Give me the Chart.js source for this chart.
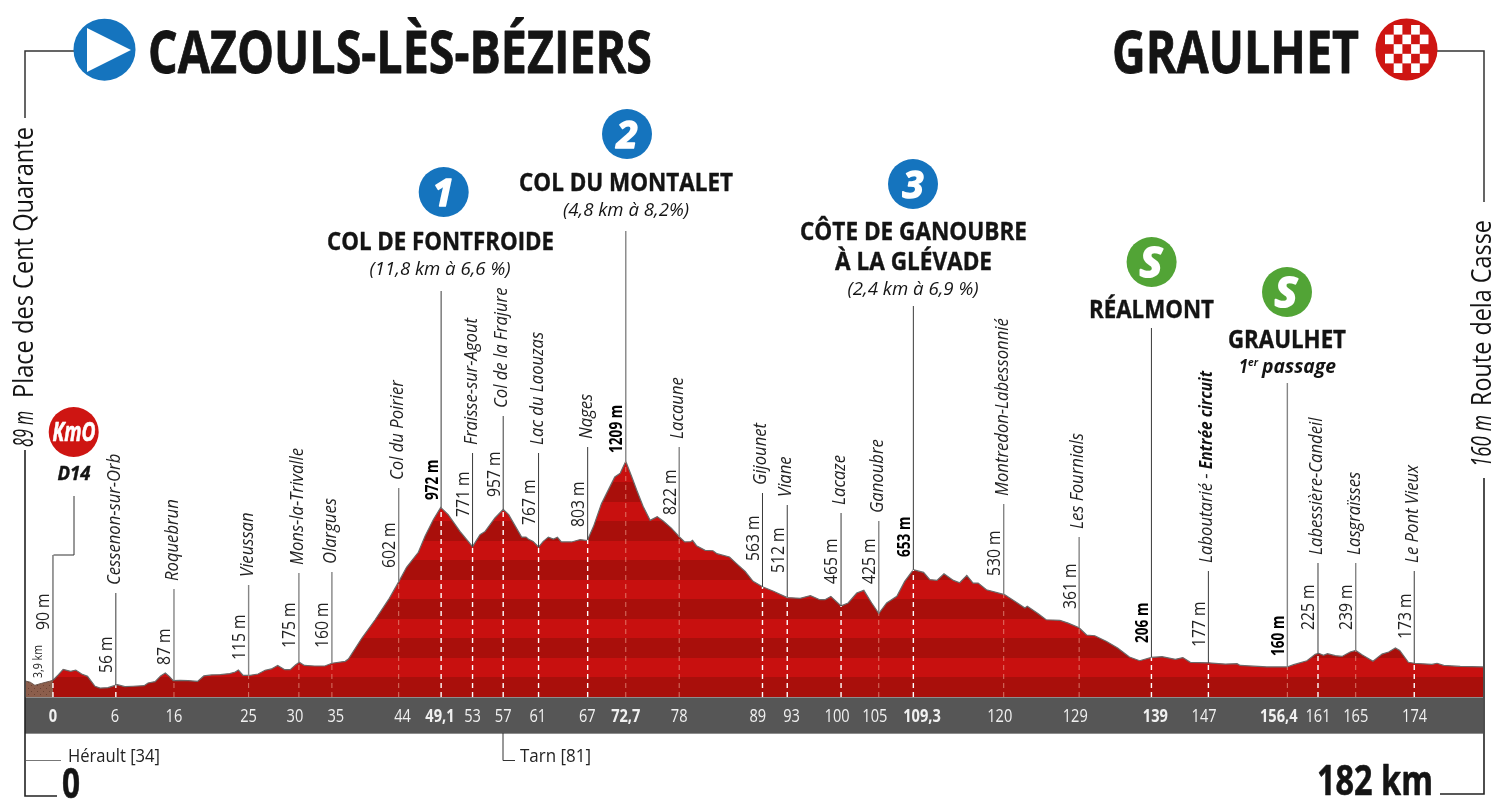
<!DOCTYPE html>
<html>
<head>
<meta charset="utf-8">
<title>Cazouls-lès-Béziers - Graulhet</title>
<script src="https://cdn.jsdelivr.net/npm/chart.js@4/dist/chart.umd.min.js"></script>
<style>
  html, body { margin: 0; padding: 0; background: #fff; }
  canvas { display: block; }
</style>
</head>
<body>
<canvas id="profile" width="1507" height="805"></canvas>
<script>
// Neutral section before km 0
const neutralKm = [-3.5, -2.9, -2.3, -1.45, -0.4, 0];
const neutralAlt = [82, 76, 60, 70, 81, 86];

// Race profile: distance (km) and altitude (m)
const profileKm = [0, 0.7, 1.3, 2.25, 2.9, 3.65, 4.4, 5.35, 6, 7, 8.2, 9.15, 10.2, 11.6, 12.1, 13, 13.7, 14.3, 14.8, 15.3,
  16.2, 17.2, 18.4, 19.2, 20.2, 21.3, 22.5, 23.2, 23.6, 24.2, 25.1, 26.1, 27, 27.8, 28.6, 29.5, 30.2, 30.9, 31.35, 32,
  33.3, 34.6, 35.5, 37.2, 37.6, 39.3, 41, 42.7, 44.1, 45, 46.5, 47.35, 48.4, 49.35, 50.3, 51.8, 53.4, 54.35, 55, 56.25,
  57.3, 58, 59.65, 60.2, 60.5, 61.1, 61.8, 62.4, 63.05, 63.7, 64.2, 64.7, 66, 67.1, 68, 68.8, 69.8, 70.9, 71.5, 72.2,
  72.9, 73.65, 74.3, 75.1, 76, 76.9, 77.7, 78.7, 79.7, 80.4, 81.15, 81.4, 81.9, 83, 84, 84.5, 86.1, 87, 88.1, 89.1,
  90.3, 91.7, 93.45, 95.1, 96.4, 97.6, 98.25, 99, 100.3, 101.2, 102.3, 103.2, 104.2, 105.1, 106.1, 107.4, 108.4, 109.5, 110.8, 111.6,
  112.5, 113.4, 114.6, 115.4, 116.3, 117.1, 117.75, 118.8, 121.1, 122.65, 123.7, 124, 125.4, 126.4, 128.15, 129.2, 130.6, 131.55, 132.6, 134.1,
  135.5, 137, 138.3, 139.8, 141.15, 142.85, 143.8, 144.75, 147.05, 149.2, 150.7, 151.1, 154.5, 157.05, 157.9, 159.6, 160.65, 161.1, 161.7, 162.2,
  163.2, 164.05, 165.1, 165.8, 166.6, 168, 169.15, 170, 170.85, 171.4, 172.5, 173.25, 174.9, 175.5, 176.15, 177, 179.1, 182];
const profileAlt = [86, 115, 142, 132, 138, 118, 106, 55, 46, 48, 63, 53, 55, 58, 72, 79, 108, 123, 106, 84,
  85, 84, 80, 108, 113, 115, 120, 128, 138, 111, 111, 118, 137, 144, 162, 140, 140, 166, 178, 162,
  159, 159, 173, 183, 195, 301, 396, 499, 598, 665, 742, 824, 909, 972, 935, 849, 771, 832, 849, 918,
  962, 935, 820, 820, 810, 798, 769, 798, 820, 810, 819, 795, 795, 807, 802, 875, 991, 1080, 1128, 1148,
  1209, 1131, 1060, 978, 906, 925, 901, 866, 822, 795, 796, 803, 776, 752, 750, 735, 718, 684, 644, 593,
  565, 542, 510, 506, 520, 499, 499, 516, 467, 482, 533, 547, 482, 428, 482, 516, 593, 653, 639, 602,
  598, 632, 598, 586, 624, 584, 584, 550, 525, 485, 456, 465, 427, 396, 393, 379, 355, 318, 314, 285,
  251, 205, 186, 203, 207, 193, 202, 178, 175, 169, 171, 162, 154, 154, 166, 186, 219, 224, 214, 222,
  212, 208, 231, 239, 217, 183, 220, 231, 251, 239, 178, 173, 169, 167, 173, 162, 157, 154];

// Passage points along the route
const markerKm = [0, 8, 15.4, 24.9, 31.3, 35.5, 44, 49.4, 53.4, 57.3, 61.8, 68.05, 72.9, 79.7, 90.3, 93.45, 100.3, 105.1, 109.5, 121, 130.6, 139.8, 147.05, 157.1, 161, 165.8, 173.25];
const markerNames = ['', 'Cessenon-sur-Orb', 'Roquebrun', 'Vieussan', 'Mons-la-Trivalle', 'Olargues', 'Col du Poirier', '', 'Fraisse-sur-Agout', 'Col de la Frajure', 'Lac du Laouzas', 'Nages', '', 'Lacaune', 'Gijounet', 'Viane', 'Lacaze', 'Ganoubre', '', 'Montredon-Labessonnié', 'Les Fournials', '', 'Laboutarié - Entrée circuit', '', 'Labessière-Candeil', 'Lasgraïsses', 'Le Pont Vieux'];
const markerAlt = [90, 56, 87, 115, 175, 160, 602, 972, 771, 957, 767, 803, 1209, 822, 563, 512, 465, 425, 653, 530, 361, 206, 177, 160, 225, 239, 173];
const boldAlt = [972, 1209, 653, 206];

// Labels of the distance band
const tickKm = [0, 7.9, 15.4, 24.9, 30.8, 36, 44.5, 49.25, 53.4, 57.3, 61.7, 68, 72.9, 79.7, 89.7, 94, 99.8, 104.6, 110.6, 120.5, 130.1, 140.3, 146.5, 156, 161, 165.8, 173.3];
const tickLabels = ['0', '6', '16', '25', '30', '35', '44', '49,1', '53', '57', '61', '67', '72,7', '78', '89', '93', '100', '105', '109,3', '120', '129', '139', '147', '156,4', '161', '165', '174'];
const boldTicks = ['0', '49,1', '72,7', '109,3', '139', '156,4'];

// Page layout only, in pixels: top of each leader, start of each altitude label
const leaderTop = [555, 593, 589, 585, 573, 572, 488, 291, 453, 416, 453, 447, 231, 447, 493, 505, 513, 521, 306, 504, 537, 328, 571, 383, 563, 563, 571];
const altBottom = [630, 673, 665, 660, 648, 648, 568, 500, 517, 497, 525, 527, 453, 515, 561, 573, 584, 584, 557, 576, 609, 643, 647, 656, 630, 630, 639];
const faintKm = [15.4, 24.9, 31.3, 35.5, 44, 72.9, 79.7, 105.1, 121, 130.6, 157.1, 165.8];

const FONT = '"Open Sans", sans-serif';
const DARK_RED = '#a90f0b';
const LIGHT_RED = '#c8100f';
const BLUE = '#1574be';
const RED = '#ce1512';
const GREEN = '#52a436';
const INK = '#141414';

// Text squeezed horizontally, the original lettering is a condensed face
function putText(ctx, text, x, y, o) {
  ctx.save();
  ctx.translate(x, y);
  if (o.rot) ctx.rotate(-Math.PI / 2);
  ctx.font = (o.style || '') + ' ' + o.size + 'px ' + FONT;
  ctx.fillStyle = o.color || INK;
  ctx.textAlign = 'left';
  ctx.textBaseline = 'alphabetic';
  const w = ctx.measureText(text).width;
  const k = o.width ? o.width / w : (o.k || 0.8);
  ctx.scale(k, 1);
  let off = 0;
  if (o.align === 'center') off = -w / 2;
  if (o.align === 'right') off = -w;
  if (o.heavy) {
    ctx.strokeStyle = ctx.fillStyle;
    ctx.lineWidth = o.heavy;
    ctx.lineJoin = 'round';
    ctx.strokeText(text, off, 0);
  }
  ctx.fillText(text, off, 0);
  ctx.restore();
  return w * k;
}

function polyLine(ctx, pts, color, width) {
  ctx.beginPath();
  pts.forEach((p, i) => (i ? ctx.lineTo(p[0], p[1]) : ctx.moveTo(p[0], p[1])));
  ctx.strokeStyle = color;
  ctx.lineWidth = width;
  ctx.stroke();
}

function disc(ctx, x, y, r, color) {
  ctx.beginPath();
  ctx.arc(x, y, r, 0, Math.PI * 2);
  ctx.fillStyle = color;
  ctx.fill();
}

function altAt(km) {
  for (let i = 1; i < profileKm.length; i++) {
    if (km <= profileKm[i]) {
      const t = (km - profileKm[i - 1]) / (profileKm[i] - profileKm[i - 1]);
      return profileAlt[i - 1] + t * (profileAlt[i] - profileAlt[i - 1]);
    }
  }
  return profileAlt[profileAlt.length - 1];
}

// Horizontal 100 m bands inside the profile
function stripes(context) {
  const chart = context.chart;
  const y = chart.scales.y;
  if (!chart.chartArea || !y) return LIGHT_RED;
  const g = chart.ctx.createLinearGradient(0, y.getPixelForValue(0), 0, y.getPixelForValue(1300));
  for (let i = 0; i < 13; i++) {
    const color = i % 2 ? LIGHT_RED : DARK_RED;
    g.addColorStop(i / 13, color);
    g.addColorStop((i + 1) / 13, color);
  }
  return g;
}

function brownPattern() {
  const c = document.createElement('canvas');
  c.width = 6;
  c.height = 6;
  const p = c.getContext('2d');
  p.fillStyle = '#8c5e4c';
  p.fillRect(0, 0, 6, 6);
  p.fillStyle = '#6a4233';
  p.fillRect(1, 1, 1, 1);
  p.fillRect(4, 4, 1, 1);
  return p.createPattern(c, 'repeat');
}

const bandPlugin = {
  id: 'band',
  beforeDraw(chart) {
    const { ctx, chartArea } = chart;
    ctx.fillStyle = '#8d8d8d';
    ctx.fillRect(chartArea.left, chartArea.bottom, chartArea.width, 37);
    ctx.fillStyle = '#565656';
    ctx.fillRect(chartArea.left, chartArea.bottom + 1, chartArea.width, 35);
  }
};

const markersPlugin = {
  id: 'markers',
  afterDatasetsDraw(chart) {
    const { ctx, chartArea } = chart;
    const xs = chart.scales.x;
    const ys = chart.scales.y;
    ctx.save();

    // labels of the distance axis, squeezed like the rest of the lettering
    xs.ticks.forEach((tick, i) => {
      const bold = boldTicks.includes(tick.label);
      putText(ctx, tick.label, xs.getPixelForTick(i), chartArea.bottom + 25, {
        size: 18.5, style: bold ? 'bold' : '', color: '#f0f0f0', align: 'center', k: 0.79
      });
    });

    markerKm.forEach((km, i) => {
      const x = xs.getPixelForValue(km);
      const top = ys.getPixelForValue(altAt(km));
      const faint = faintKm.includes(km);
      const bold = boldAlt.includes(markerAlt[i]) || (markerAlt[i] === 160 && km > 100);

      // dashed part inside the profile
      ctx.save();
      ctx.setLineDash([5, 4]);
      polyLine(ctx, [[x, chartArea.bottom], [x, top]], faint ? 'rgba(240,170,150,0.65)' : '#fff', faint ? 1 : 1.4);
      ctx.restore();

      polyLine(ctx, [[x, top], [x, leaderTop[i]]], faint ? '#858585' : '#3a3a3a', faint ? 1.4 : 1);

      putText(ctx, markerAlt[i] + ' m', x - 3.6, altBottom[i], {
        rot: true, size: 17.5, style: bold ? 'bold' : '', color: bold ? '#000' : '#222', k: bold ? 0.78 : 0.9
      });

      const name = markerNames[i];
      if (!name) return;
      const parts = name.split(' - ');
      const w = putText(ctx, parts.length > 1 ? parts[0] + ' - ' : name, x + 4, leaderTop[i] - 8, { rot: true, size: 18, style: 'italic', color: '#222', k: 0.925 });
      if (parts.length > 1) {
        putText(ctx, parts[1], x + 4, leaderTop[i] - 8 - w, { rot: true, size: 18, style: 'italic bold', color: '#111', k: 0.86 });
      }
    });
    ctx.restore();
  },
  afterDraw(chart) {
    const ctx = chart.ctx;
    ctx.save();

    // start and finish frames
    polyLine(ctx, [[74, 51], [25, 51], [25, 118]], '#333', 1.5);
    polyLine(ctx, [[25, 450], [25, 796], [57, 796]], '#222', 1.6);
    polyLine(ctx, [[1437, 51], [1484, 51], [1484, 202]], '#333', 1.5);
    polyLine(ctx, [[1484, 478], [1484, 794], [1440, 794]], '#222', 1.6);

    // start badge
    disc(ctx, 104.5, 49.7, 31, BLUE);
    ctx.beginPath();
    ctx.moveTo(87, 28);
    ctx.lineTo(131, 50);
    ctx.lineTo(87, 72);
    ctx.closePath();
    ctx.fillStyle = '#fff';
    ctx.fill();
    putText(ctx, 'CAZOULS-LÈS-BÉZIERS', 148, 73, { size: 59, style: 'bold', width: 504, heavy: 0.8 });

    // finish badge
    disc(ctx, 1406.5, 49.5, 31, RED);
    ctx.fillStyle = '#fff';
    [[1, 0], [3, 0], [0, 1], [2, 1], [4, 1], [1, 2], [3, 2], [0, 3], [2, 3], [4, 3], [1, 4], [3, 4]].forEach(c => {
      ctx.fillRect(1385 + c[0] * 8.7, 25 + c[1] * 9.6, 8.7, 9.6);
    });
    putText(ctx, 'GRAULHET', 1112, 73, { size: 59, style: 'bold', width: 247, heavy: 0.8 });

    // rotated place names along the frames
    putText(ctx, '89 m', 33, 447, { rot: true, size: 27, style: 'italic', width: 36 });
    putText(ctx, 'Place des Cent Quarante', 33, 398, { rot: true, size: 27, width: 271 });
    putText(ctx, '160 m', 1491, 467, { rot: true, size: 27, style: 'italic', width: 52 });
    putText(ctx, 'Route dela Casse', 1491, 406, { rot: true, size: 27, width: 186 });

    // Km0
    disc(ctx, 73.7, 432, 25, RED);
    putText(ctx, 'KmO', 74, 441, { size: 26, style: 'italic bold', color: '#fff', align: 'center', width: 43, heavy: 0.6 });
    putText(ctx, 'D14', 74, 480, { size: 19, style: 'italic bold', align: 'center', width: 33, heavy: 0.4 });
    polyLine(ctx, [[53.5, 555], [74, 555], [74, 496]], '#333', 1);
    putText(ctx, '3,9 km', 42, 678, { rot: true, size: 13, color: '#222', width: 33 });

    // departments and totals
    polyLine(ctx, [[26, 760.5], [61, 760.5]], '#777', 1);
    putText(ctx, 'Hérault [34]', 68, 762, { size: 18, color: '#222', width: 92 });
    polyLine(ctx, [[503, 733], [503, 760.5], [515, 760.5]], '#333', 1);
    putText(ctx, 'Tarn [81]', 520, 762, { size: 18, color: '#222', width: 71 });
    putText(ctx, '0', 71, 798, { size: 42, style: 'bold', align: 'center', width: 18, heavy: 0.6 });
    putText(ctx, '182 km', 1317, 795, { size: 42, style: 'bold', width: 116, heavy: 0.6 });

    // climbs
    disc(ctx, 443.7, 192, 25, BLUE);
    putText(ctx, '1', 443, 206, { size: 38, style: 'italic bold', color: '#fff', align: 'center', k: 1, heavy: 1.5 });
    putText(ctx, 'COL DE FONTFROIDE', 327, 250, { size: 25, style: 'bold', width: 227, heavy: 0.4 });
    putText(ctx, '(11,8 km à 6,6 %)', 440, 275, { size: 19, style: 'italic', align: 'center', width: 141 });

    disc(ctx, 627, 134, 25, BLUE);
    putText(ctx, '2', 627, 148, { size: 38, style: 'italic bold', color: '#fff', align: 'center', k: 1, heavy: 1.5 });
    putText(ctx, 'COL DU MONTALET', 519, 191, { size: 25, style: 'bold', width: 214, heavy: 0.4 });
    putText(ctx, '(4,8 km à 8,2%)', 626, 216, { size: 19, style: 'italic', align: 'center', width: 126 });

    disc(ctx, 913, 184, 25, BLUE);
    putText(ctx, '3', 913, 198, { size: 38, style: 'italic bold', color: '#fff', align: 'center', k: 1, heavy: 1.5 });
    putText(ctx, 'CÔTE DE GANOUBRE', 800, 240, { size: 25, style: 'bold', width: 227, heavy: 0.4 });
    putText(ctx, 'À LA GLÉVADE', 835, 270, { size: 25, style: 'bold', width: 157, heavy: 0.4 });
    putText(ctx, '(2,4 km à 6,9 %)', 913, 295, { size: 19, style: 'italic', align: 'center', width: 131 });

    // sprints
    disc(ctx, 1151.6, 262, 25, GREEN);
    putText(ctx, 'S', 1151, 277, { size: 42, style: 'italic bold', color: '#fff', align: 'center', k: 1, heavy: 2 });
    putText(ctx, 'RÉALMONT', 1089, 318, { size: 25, style: 'bold', width: 125, heavy: 0.4 });

    disc(ctx, 1287, 292, 25, GREEN);
    putText(ctx, 'S', 1286, 307, { size: 42, style: 'italic bold', color: '#fff', align: 'center', k: 1, heavy: 2 });
    putText(ctx, 'GRAULHET', 1228, 348, { size: 25, style: 'bold', width: 118, heavy: 0.4 });
    putText(ctx, '1', 1239, 373, { size: 19, style: 'italic bold', width: 9 });
    putText(ctx, 'er', 1248, 366, { size: 11, style: 'italic bold', width: 10 });
    putText(ctx, 'passage', 1262, 373, { size: 19, style: 'italic bold', width: 74 });

    ctx.restore();
  }
};

document.addEventListener('DOMContentLoaded', function() {
  const canvas = document.getElementById('profile');

  new Chart(canvas, {
    type: 'line',
    data: {
      datasets: [
        {
          label: 'Neutralisé',
          data: neutralKm.map((km, i) => ({ x: km, y: neutralAlt[i] })),
          borderColor: '#6d5a52',
          borderWidth: 1,
          backgroundColor: brownPattern(),
          fill: 'origin',
          pointRadius: 0,
          tension: 0
        },
        {
          label: 'Altitude',
          data: profileKm.map((km, i) => ({ x: km, y: profileAlt[i] })),
          borderColor: '#6a6a6a',
          borderWidth: 1.2,
          backgroundColor: stripes,
          fill: 'origin',
          pointRadius: 0,
          tension: 0
        }
      ]
    },
    options: {
      responsive: false,
      animation: false,
      layout: { padding: { left: 25, right: 24, top: 0, bottom: 72 } },
      plugins: { legend: { display: false }, tooltip: { enabled: false } },
      scales: {
        x: {
          type: 'linear',
          min: -3.56,
          max: 182,
          grid: { display: false },
          border: { display: false },
          afterBuildTicks: axis => { axis.ticks = tickKm.map(v => ({ value: v })); },
          afterFit: axis => { axis.height = 36; },
          ticks: {
            display: false,
            autoSkip: false,
            callback: (value, index) => tickLabels[index]
          }
        },
        y: { display: false, min: 0, max: 3574 }
      }
    },
    plugins: [bandPlugin, markersPlugin]
  });
});
</script>
</body>
</html>
